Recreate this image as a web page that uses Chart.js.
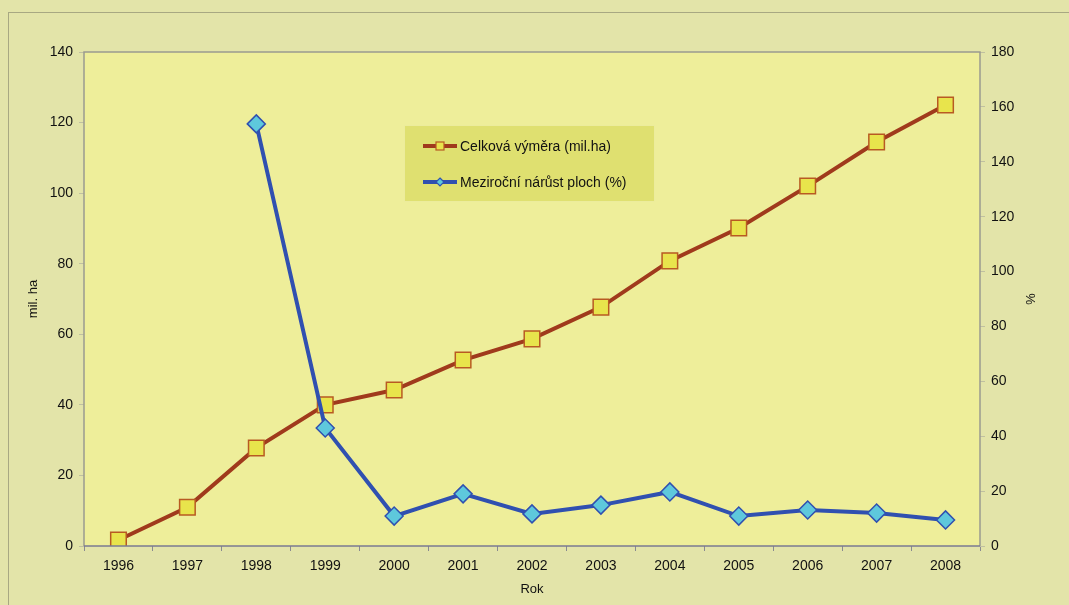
<!DOCTYPE html>
<html>
<head>
<meta charset="utf-8">
<script src="https://cdn.jsdelivr.net/npm/chart.js@4/dist/chart.umd.min.js"></script>
<style>
  html, body { margin: 0; padding: 0; background: #e3e4a9; }
  #wrap { width: 1069px; height: 605px; position: relative; }
</style>
</head>
<body>
<div id="wrap"><canvas id="chart" width="1069" height="605"></canvas></div>
<script>
const years = ['1996', '1997', '1998', '1999', '2000', '2001', '2002', '2003', '2004', '2005', '2006', '2007', '2008'];
const totalArea = [1.7, 11, 27.8, 40, 44.2, 52.7, 58.7, 67.7, 80.8, 90.1, 102, 114.5, 125];
const yearGrowth = [null, null, 153.8, 43, 10.9, 19, 11.7, 14.9, 19.7, 10.9, 13.1, 12, 9.5];
const seriesNames = ['Celková výměra (mil.ha)', 'Meziroční nárůst ploch (%)'];

const font = "'Liberation Sans', Arial, sans-serif";

// background, frame, axis titles and the legend box
const decorPlugin = {
    id: 'decor',
    beforeDraw(chart) {
        const ctx = chart.ctx;
        const a = chart.chartArea;
        ctx.save();
        ctx.fillStyle = '#e3e4a9';
        ctx.fillRect(0, 0, chart.width, chart.height);
        ctx.strokeStyle = '#a8a882';
        ctx.lineWidth = 1;
        ctx.strokeRect(8.5, 12.5, chart.width + 20, chart.height + 20);
        ctx.fillStyle = '#eeee9a';
        ctx.fillRect(a.left, a.top, a.right - a.left, a.bottom - a.top);
        ctx.restore();
    },
    afterDatasetsDraw(chart) {
        const ctx = chart.ctx;
        const a = chart.chartArea;
        ctx.save();
        ctx.strokeStyle = '#9a9a90';
        ctx.lineWidth = 1.5;
        ctx.beginPath();
        ctx.moveTo(a.left, a.bottom);
        ctx.lineTo(a.left, a.top);
        ctx.lineTo(a.right, a.top);
        ctx.lineTo(a.right, a.bottom);
        ctx.stroke();
        ctx.strokeStyle = '#7a7a92';
        ctx.beginPath();
        ctx.moveTo(a.left, a.bottom);
        ctx.lineTo(a.right, a.bottom);
        ctx.stroke();

        // axis titles
        ctx.fillStyle = '#111';
        ctx.font = '13px ' + font;
        ctx.textAlign = 'center';
        ctx.textBaseline = 'middle';
        ctx.fillText('Rok', (a.left + a.right) / 2, 589);
        ctx.save();
        ctx.translate(33, 299);
        ctx.rotate(-Math.PI / 2);
        ctx.fillText('mil. ha', 0, 0);
        ctx.restore();
        ctx.save();
        ctx.translate(1030, 299);
        ctx.rotate(Math.PI / 2);
        ctx.fillText('%', 0, 0);
        ctx.restore();

        // legend
        ctx.fillStyle = '#dfe070';
        ctx.fillRect(404, 125, 250, 76);
        ctx.strokeStyle = '#ecec9c';
        ctx.lineWidth = 1;
        ctx.strokeRect(404.5, 125.5, 250, 76);
        const rows = [146, 182];
        chart.data.datasets.forEach((ds, i) => {
            const y = rows[i];
            ctx.strokeStyle = ds.borderColor;
            ctx.lineWidth = 4;
            ctx.beginPath();
            ctx.moveTo(423, y);
            ctx.lineTo(457, y);
            ctx.stroke();
            ctx.fillStyle = ds.pointBackgroundColor;
            ctx.strokeStyle = ds.pointBorderColor;
            ctx.lineWidth = 1.2;
            if (i === 0) {
                ctx.fillRect(436, y - 4, 8, 8);
                ctx.strokeRect(436, y - 4, 8, 8);
            } else {
                ctx.beginPath();
                ctx.moveTo(440, y - 4);
                ctx.lineTo(444, y);
                ctx.lineTo(440, y + 4);
                ctx.lineTo(436, y);
                ctx.closePath();
                ctx.fill();
                ctx.stroke();
            }
            ctx.fillStyle = '#111';
            ctx.font = '14px ' + font;
            ctx.textAlign = 'left';
            ctx.fillText(ds.label, 460, y + 1);
        });
        ctx.restore();
    }
};

new Chart(document.getElementById('chart').getContext('2d'), {
    type: 'line',
    data: {
        labels: years,
        datasets: [{
            label: seriesNames[0],
            data: totalArea,
            yAxisID: 'y',
            order: 1,
            borderColor: '#a03a1c',
            borderWidth: 4,
            pointStyle: 'rect',
            pointRadius: 11,
            pointBackgroundColor: '#e8e44c',
            pointBorderColor: '#b85a22',
            pointBorderWidth: 1.5,
            tension: 0
        }, {
            label: seriesNames[1],
            data: yearGrowth,
            yAxisID: 'y1',
            order: 0,
            borderColor: '#3050b0',
            borderWidth: 4,
            pointStyle: 'rectRot',
            pointRadius: 9,
            pointBackgroundColor: '#5ec8dc',
            pointBorderColor: '#3050b0',
            pointBorderWidth: 1.5,
            tension: 0
        }]
    },
    options: {
        responsive: false,
        animation: false,
        layout: { padding: { top: 52, left: 0, right: 0, bottom: 0 } },
        plugins: {
            legend: { display: false },
            tooltip: { enabled: false }
        },
        scales: {
            x: {
                offset: true,
                grid: {
                    offset: true,
                    drawOnChartArea: false,
                    tickLength: 5,
                    color: '#8a8a90'
                },
                border: { display: false },
                ticks: {
                    color: '#111',
                    font: { family: font, size: 14 },
                    padding: 7,
                    maxRotation: 0
                },
                afterFit(scale) { scale.height = 59; }
            },
            y: {
                position: 'left',
                min: 0,
                max: 140,
                ticks: {
                    stepSize: 20,
                    color: '#111',
                    font: { family: font, size: 14 },
                    padding: 6
                },
                grid: {
                    drawOnChartArea: false,
                    tickLength: 5,
                    color: '#c0c0a0'
                },
                border: { display: false },
                afterFit(scale) { scale.width = 84; }
            },
            y1: {
                position: 'right',
                min: 0,
                max: 180,
                ticks: {
                    stepSize: 20,
                    color: '#111',
                    font: { family: font, size: 14 },
                    padding: 6
                },
                grid: {
                    drawOnChartArea: false,
                    tickLength: 5,
                    color: '#c0c0a0'
                },
                border: { display: false },
                afterFit(scale) { scale.width = 89; }
            }
        }
    },
    plugins: [decorPlugin]
});
</script>
</body>
</html>
